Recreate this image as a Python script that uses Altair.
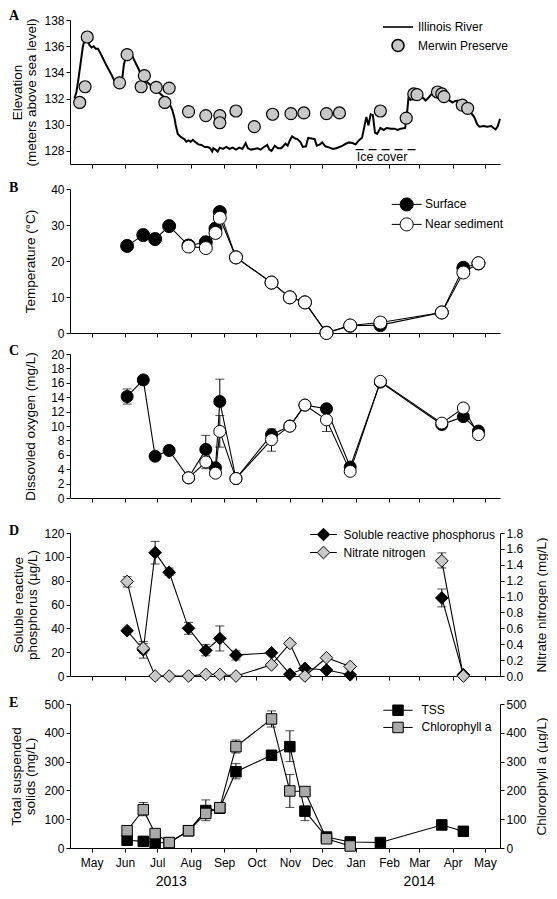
import altair as alt
import pandas as pd

# ---------------- data ----------------
# Panel A: Illinois River stage and Merwin Preserve samples
river_dates = [
    "2013-04-15", "2013-04-17", "2013-04-19", "2013-04-21", "2013-04-23", "2013-04-25", "2013-04-27",
    "2013-04-29", "2013-05-01", "2013-05-03", "2013-05-05", "2013-05-07", "2013-05-09", "2013-05-12",
    "2013-05-15", "2013-05-19", "2013-05-22", "2013-05-25", "2013-05-27", "2013-05-29", "2013-05-31",
    "2013-06-02", "2013-06-05", "2013-06-08", "2013-06-11", "2013-06-14", "2013-06-17", "2013-06-21",
    "2013-06-25", "2013-06-28", "2013-07-02", "2013-07-06", "2013-07-10", "2013-07-13", "2013-07-15",
    "2013-07-17", "2013-07-18", "2013-07-20", "2013-07-23", "2013-07-26", "2013-07-28", "2013-07-30",
    "2013-08-01", "2013-08-03", "2013-08-05", "2013-08-08", "2013-08-11", "2013-08-14", "2013-08-17",
    "2013-08-19", "2013-08-21", "2013-08-22", "2013-08-24", "2013-08-26", "2013-08-28", "2013-08-31",
    "2013-09-03", "2013-09-06", "2013-09-09", "2013-09-12", "2013-09-15", "2013-09-18", "2013-09-21",
    "2013-09-23", "2013-09-26", "2013-09-29", "2013-10-02", "2013-10-05", "2013-10-08", "2013-10-11",
    "2013-10-13", "2013-10-15", "2013-10-18", "2013-10-21", "2013-10-24", "2013-10-28", "2013-10-30",
    "2013-11-01", "2013-11-03", "2013-11-06", "2013-11-08", "2013-11-11", "2013-11-13", "2013-11-16",
    "2013-11-18", "2013-11-21", "2013-11-24", "2013-11-26", "2013-11-29", "2013-12-01", "2013-12-04",
    "2013-12-08", "2013-12-11", "2013-12-14", "2013-12-17", "2013-12-20", "2013-12-23", "2013-12-26",
    "2013-12-29", "2014-01-01", "2014-01-04", "2014-01-07", "2014-01-09", "2014-01-11", "2014-01-13",
    "2014-01-15", "2014-01-17", "2014-01-19", "2014-01-21", "2014-01-24", "2014-01-27", "2014-01-30",
    "2014-02-03", "2014-02-06", "2014-02-09", "2014-02-12", "2014-02-16", "2014-02-18", "2014-02-19",
    "2014-02-21", "2014-02-23", "2014-02-27", "2014-03-02", "2014-03-04", "2014-03-07", "2014-03-10",
    "2014-03-12", "2014-03-16", "2014-03-19", "2014-03-22", "2014-03-25", "2014-03-27", "2014-04-01",
    "2014-04-03", "2014-04-06", "2014-04-10", "2014-04-13", "2014-04-16", "2014-04-19", "2014-04-21",
    "2014-04-24", "2014-04-26", "2014-04-30", "2014-05-03", "2014-05-07", "2014-05-09", "2014-05-11",
    "2014-05-13", "2014-05-15",
]
river_elev = [
    132.0, 132.5, 133.6, 134.8, 136.0, 136.6, 136.5,
    136.1, 135.9, 136.0, 135.8, 135.8, 135.5, 135.0,
    134.5, 133.9, 133.4, 132.9, 133.0, 133.2, 134.6,
    135.2, 135.45, 135.2, 134.7, 134.2, 133.6, 133.3,
    133.0, 132.85, 132.5, 132.2, 131.85, 131.5, 131.1,
    130.5, 130.0, 129.3, 129.05, 128.9, 128.7, 128.8,
    128.7, 128.85, 128.7, 128.5, 128.45, 128.3, 128.3,
    128.2, 127.95, 128.2, 128.1, 127.95, 128.25, 128.15,
    128.3, 128.15, 128.25, 128.1, 128.25, 128.15, 128.6,
    128.2, 128.1, 128.15, 128.2, 128.1, 128.3, 128.45,
    128.1, 128.0, 128.4, 128.2, 128.2, 128.55, 128.4,
    128.8, 129.1, 128.95, 128.9, 128.65, 128.3, 128.35,
    129.0, 128.95, 128.9, 128.4, 128.5, 128.65, 128.35,
    128.25, 128.15, 128.2, 128.3, 128.4, 128.55, 128.65,
    128.6, 128.5, 128.8, 129.0, 129.8, 130.6, 129.95,
    130.8, 130.75, 129.4, 129.3, 129.75, 129.6, 129.75,
    129.7, 129.7, 129.6, 129.7, 129.75, 131.1, 132.0,
    131.9, 132.35, 132.4, 132.3, 132.1, 131.85, 132.1,
    132.3, 132.6, 132.5, 132.2, 132.1, 131.95, 131.7,
    131.8, 131.85, 131.6, 131.4, 131.1, 130.8, 130.6,
    130.0, 129.85, 129.9, 129.85, 129.9, 129.75, 129.65,
    129.9, 130.45,
]
merwin_dates = [
    "2013-04-20", "2013-04-25", "2013-04-27", "2013-05-27", "2013-06-03", "2013-06-16", "2013-06-19",
    "2013-06-30", "2013-07-08", "2013-07-12", "2013-07-30", "2013-08-15", "2013-08-28", "2013-08-28",
    "2013-09-12", "2013-09-29", "2013-10-16", "2013-11-02", "2013-11-14", "2013-12-05", "2013-12-17",
    "2014-01-24", "2014-02-17", "2014-02-24", "2014-02-27", "2014-03-18", "2014-03-22", "2014-03-24",
    "2014-04-10", "2014-04-15",
]
merwin_elev = [
    131.7, 132.9, 136.7, 133.2, 135.35, 132.9, 133.75,
    132.85, 131.7, 132.8, 131.0, 130.7, 130.7, 130.15,
    131.05, 129.85, 130.8, 130.85, 130.9, 130.85, 130.9,
    131.05, 130.5, 132.35, 132.3, 132.5, 132.35, 132.15,
    131.5, 131.25,
]
ice_start = ["2014-01-01"]
ice_end = ["2014-03-02"]
ice_level = [128.1]
ice_label = ["Ice cover"]
ice_label_date = ["2014-01-02"]
ice_label_level = [127.55]

# Sampling dates (panels B, C)
sample_dates = [
    "2013-06-03", "2013-06-18", "2013-06-29", "2013-07-12", "2013-07-30", "2013-08-15", "2013-08-24",
    "2013-08-28", "2013-09-12", "2013-10-15", "2013-11-01", "2013-11-15", "2013-12-05", "2013-12-27",
    "2014-01-24", "2014-03-22", "2014-04-11", "2014-04-25",
]
near_dates = sample_dates[4:]

# Panel B: temperature
temp_surface = [24.2, 27.2, 26.1, 29.7, 24.3, 25.2, 29.0, 33.6, 21.0, 14.0, 9.9, 8.5, 0.1, 2.0, 2.2, 5.7, 18.1, 19.3]
temp_near = [24.0, 23.6, 27.8, 32.0, 21.0, 14.0, 9.9, 8.5, 0.0, 2.1, 2.9, 5.7, 16.8, 19.4]

# Panel C: dissolved oxygen
do_surface = [14.1, 16.4, 5.8, 6.6, 2.8, 6.75, 4.2, 13.4, 2.7, 8.8, 10.0, 12.9, 12.4, 4.3, 16.1, 10.2, 11.3, 9.3]
do_near = [2.8, 5.0, 3.45, 9.25, 2.7, 8.1, 9.97, 12.9, 10.85, 3.7, 16.2, 10.4, 12.5, 8.8]
do_err_surface_dates = ["2013-06-03", "2013-08-15", "2013-08-28", "2013-10-15"]
do_err_surface_lo = [13.05, 6.75, 13.4, 8.8]
do_err_surface_hi = [15.15, 8.7, 16.5, 9.6]
do_err_near_dates = ["2013-08-15", "2013-08-28", "2013-10-15", "2013-12-05"]
do_err_near_lo = [4.07, 7.06, 6.5, 9.25]
do_err_near_hi = [5.0, 11.45, 8.1, 10.85]

# Panel D: nutrients
nut_dates = [
    "2013-06-03", "2013-06-18", "2013-06-29", "2013-07-12", "2013-07-30", "2013-08-15", "2013-08-28",
    "2013-09-12", "2013-10-15", "2013-11-01", "2013-11-15", "2013-12-05", "2013-12-27", "2014-03-22",
    "2014-04-11",
]
srp = [38.0, 22.0, 103.5, 87.0, 40.0, 21.5, 31.5, 17.5, 19.5, 1.5, 6.5, 5.0, 1.0, 65.5, 1.0]
nitrate = [1.19, 0.35, 0.0, 0.0, 0.0, 0.02, 0.02, 0.0, 0.14, 0.41, 0.0, 0.23, 0.12, 1.45, 0.0]
srp_err_dates = ["2013-06-18", "2013-06-29", "2013-07-12", "2013-07-30", "2013-08-15", "2013-08-28", "2013-09-12", "2014-03-22"]
srp_err_lo = [15, 94, 84.5, 35, 17, 21, 13.5, 58]
srp_err_hi = [29, 113, 90.5, 45, 26.5, 42, 21, 73]
no3_err_dates = ["2013-06-03", "2013-06-18", "2014-03-22"]
no3_err_lo = [1.12, 0.29, 1.36]
no3_err_hi = [1.25, 0.41, 1.55]

# Panel E: solids and chlorophyll
sol_dates = [
    "2013-06-03", "2013-06-18", "2013-06-29", "2013-07-12", "2013-07-30", "2013-08-15", "2013-08-28",
    "2013-09-12", "2013-10-15", "2013-11-01", "2013-11-15", "2013-12-05", "2013-12-27", "2014-01-24",
    "2014-03-22", "2014-04-11",
]
tss = [27, 23, 18, 18, 60, 130, 138, 265, 322, 352, 128, 38, 21, 19, 80, 58]
chl_dates = sol_dates[:13]
chl = [60, 133, 50, 19, 60, 120, 140, 352, 448, 198, 196, 32, 7]
tss_err_dates = ["2013-08-15", "2013-09-12", "2013-11-01", "2013-11-15"]
tss_err_lo = [130, 240, 300, 95]
tss_err_hi = [167, 293, 407, 128]
chl_err_dates = ["2013-06-18", "2013-08-15", "2013-09-12", "2013-10-15", "2013-11-01"]
chl_err_lo = [112, 95, 330, 420, 141]
chl_err_hi = [158, 120, 375, 476, 255]

year_dates = ["2013-07-14", "2014-03-01"]
year_labels = ["2013", "2014"]

# ---------------- styling ----------------
FONT = "Liberation Sans"
W = 430
X_DOMAIN = [alt.DateTime(year=2013, month=4, date=11, utc=True),
            alt.DateTime(year=2014, month=5, date=15, utc=True)]
MONTHS = [(2013, m) for m in range(5, 13)] + [(2014, m) for m in range(1, 6)]
MONTH_TICKS = [alt.DateTime(year=y, month=m, date=1, utc=True) for (y, m) in MONTHS]

LINE_PATH = "M-2.5,0L2.5,0"
CIRCLE_PATH = "M-2.3,0L-1,0M1,0L2.3,0M-1,0A1,1 0 1 1 1,0A1,1 0 1 1 -1,0Z"
DIAMOND_PATH = "M-2.1,0L-1,0M1,0L2.1,0M-1,0L0,-1L1,0L0,1Z"
SQUARE_PATH = "M-2.8,0L-1,0M1,0L2.8,0M-1,-1L1,-1L1,1L-1,1Z"


def xenc(labels=False):
    return alt.X(
        "date:T", title=None,
        scale=alt.Scale(type="utc", domain=X_DOMAIN, nice=False),
        axis=alt.Axis(values=MONTH_TICKS, format="%b", labels=labels, labelFlush=False,
                      labelOverlap=False, tickSize=4, labelPadding=5, grid=False),
    )


def yenc(field, domain, values, title, orient="left", title_x=None, fmt=None):
    ax = dict(values=values, title=title, orient=orient, tickSize=4, labelPadding=2, grid=False)
    if title_x is not None:
        ax["titleX"] = title_x
    if fmt:
        ax["format"] = fmt
    if orient == "right":
        ax["titleAngle"] = 270
        ax["titleBaseline"] = "top"
    return alt.Y(field, scale=alt.Scale(domain=domain, nice=False, zero=False), axis=alt.Axis(**ax))


def letter(ch, dy):
    return alt.Chart(pd.DataFrame({"t": [ch]})).mark_text(
        align="left", baseline="top", font="Liberation Serif", fontWeight="bold", fontSize=14, color="black"
    ).encode(text="t:N", x=alt.value(-61), y=alt.value(dy))


def spacer(k):
    return alt.Chart(pd.DataFrame({"t": [0]})).mark_rule(opacity=0).encode(y=alt.value(-k))


def legend(path, lx, ly, size, label_offset, row_pad):
    return alt.Legend(orient="none", legendX=lx, legendY=ly, title=None, symbolType=path,
                      symbolSize=size, symbolStrokeColor="black", symbolStrokeWidth=1,
                      symbolOpacity=1, labelOffset=label_offset, rowPadding=row_pad, padding=0,
                      labelFont=FONT, labelFontSize=12, labelColor="black")


def err_layers(df, yname_hi, ydef_lo, ydef_hi):
    rule = alt.Chart(df).mark_rule(color="black", strokeWidth=1).encode(
        x=xenc(), y=ydef_lo, y2=alt.Y2(yname_hi))
    cap_lo = alt.Chart(df).mark_tick(color="black", thickness=1, size=9, orient="horizontal").encode(
        x=xenc(), y=ydef_lo)
    cap_hi = alt.Chart(df).mark_tick(color="black", thickness=1, size=9, orient="horizontal").encode(
        x=xenc(), y=ydef_hi)
    return [rule, cap_lo, cap_hi]


# ---------------- panel A ----------------
yA = lambda f: yenc(f, [127, 138], [128, 130, 132, 134, 136, 138],
                    ["Elevation", "(meters above sea level)"], title_x=-46)
river_df = pd.DataFrame({"date": river_dates, "v": river_elev})
merwin_df = pd.DataFrame({"date": merwin_dates, "v": merwin_elev, "series": "Merwin Preserve"})
ice_df = pd.DataFrame({"date": ice_start, "date2": ice_end, "v": ice_level})
ice_txt = pd.DataFrame({"date": ice_label_date, "v": ice_label_level, "label": ice_label})

legA = alt.Legend(orient="none", legendX=321, legendY=0, title=None, symbolSize=144,
                  symbolStrokeWidth=1.6, symbolOpacity=1,
                  labelOffset=13, rowPadding=2.5, padding=0,
                  labelFont=FONT, labelFontSize=12, labelColor="black")
A_dom = ["Illinois River", "Merwin Preserve"]
panelA = alt.layer(
    alt.Chart(river_df).mark_line(color="black", strokeWidth=2).encode(x=xenc(), y=yA("v:Q")),
    alt.Chart(ice_df).mark_rule(color="black", strokeWidth=1.2, strokeDash=[8, 5]).encode(
        x=xenc(), x2="date2:T", y=yA("v:Q")),
    alt.Chart(ice_txt).mark_text(align="left", baseline="middle", font=FONT, fontSize=12.5, color="black").encode(
        x=xenc(), y=yA("v:Q"), text="label:N"),
    alt.Chart(merwin_df).mark_point(filled=True, opacity=1, size=144, strokeWidth=1.2).encode(
        x=xenc(), y=yA("v:Q"),
        shape=alt.Shape("series:N", scale=alt.Scale(domain=A_dom, range=[LINE_PATH, "circle"]), legend=legA),
        fill=alt.Fill("series:N", scale=alt.Scale(domain=A_dom, range=["black", "#c8c8c8"]), legend=legA),
        stroke=alt.Stroke("series:N", scale=alt.Scale(domain=A_dom, range=["black", "black"]), legend=legA),
    ),
    letter("A", -11.3),
).properties(width=W, height=144)

# ---------------- panel B ----------------
B_dom = ["Surface", "Near sediment"]
temp_df = pd.concat([
    pd.DataFrame({"date": sample_dates, "v": temp_surface, "series": "Surface"}),
    pd.DataFrame({"date": near_dates, "v": temp_near, "series": "Near sediment"}),
])
yB = lambda f: yenc(f, [0, 40], [0, 10, 20, 30, 40], "Temperature (°C)", title_x=-33)
panelB = alt.layer(
    alt.Chart(temp_df).mark_line(color="black", strokeWidth=1.1).encode(x=xenc(), y=yB("v:Q"), detail="series:N"),
    alt.Chart(temp_df).mark_point(filled=True, opacity=1, size=169, stroke="black", strokeWidth=1).encode(
        x=xenc(), y=yB("v:Q"),
        fill=alt.Fill("series:N", scale=alt.Scale(domain=B_dom, range=["black", "white"]),
                      legend=legend(CIRCLE_PATH, 329.7, 8.4, 169, 11.3, 2))),
    letter("B", -7.6), spacer(19.3),
).properties(width=W, height=144)

# ---------------- panel C ----------------
do_df = pd.concat([
    pd.DataFrame({"date": sample_dates, "v": do_surface, "series": "Surface"}),
    pd.DataFrame({"date": near_dates, "v": do_near, "series": "Near sediment"}),
])
do_err = pd.concat([
    pd.DataFrame({"date": do_err_surface_dates, "lo": do_err_surface_lo, "hi": do_err_surface_hi}),
    pd.DataFrame({"date": do_err_near_dates, "lo": do_err_near_lo, "hi": do_err_near_hi}),
])
yC = lambda f: yenc(f, [0, 20], list(range(0, 21, 2)), "Dissovled oxygen (mg/L)", title_x=-33)
panelC = alt.layer(
    alt.Chart(do_df).mark_line(color="black", strokeWidth=1.1).encode(x=xenc(), y=yC("v:Q"), detail="series:N"),
    *err_layers(do_err, "hi:Q", yC("lo:Q"), yC("hi:Q")),
    alt.Chart(do_df).mark_point(filled=True, opacity=1, size=144, stroke="black", strokeWidth=1).encode(
        x=xenc(), y=yC("v:Q"),
        fill=alt.Fill("series:N", scale=alt.Scale(domain=B_dom, range=["black", "white"]), legend=None)),
    letter("C", -10.3), spacer(11.5),
).properties(width=W, height=144)

# ---------------- panel D ----------------
D_dom = ["Soluble reactive phosphorus", "Nitrate nitrogen"]
seg = [d[:4] for d in nut_dates]
srp_df = pd.DataFrame({"date": nut_dates, "v": srp, "seg": seg, "series": D_dom[0]})
no3_df = pd.DataFrame({"date": nut_dates, "n": nitrate, "seg": seg, "series": D_dom[1]})
srp_err = pd.DataFrame({"date": srp_err_dates, "lo": srp_err_lo, "hi": srp_err_hi})
no3_err = pd.DataFrame({"date": no3_err_dates, "lo": no3_err_lo, "hi": no3_err_hi})
yDl = lambda f: yenc(f, [0, 120], list(range(0, 121, 20)), ["Soluble reactive", "phosphorus (µg/L)"], title_x=-45)
yDr = lambda f: yenc(f, [0, 1.8], [round(0.2 * i, 1) for i in range(10)], "Nitrate nitrogen (mg/L)",
                     orient="right", title_x=34, fmt=".1f")
legD = legend(DIAMOND_PATH, 246.5, -5.5, 160, 13, 0)
D_fill = alt.Scale(domain=D_dom, range=["black", "#c8c8c8"])
D_left = alt.layer(
    alt.Chart(srp_df).mark_line(color="black", strokeWidth=1.1).encode(x=xenc(), y=yDl("v:Q"), detail="seg:N"),
    *err_layers(srp_err, "hi:Q", yDl("lo:Q"), yDl("hi:Q")),
    alt.Chart(srp_df).mark_point(shape="diamond", filled=True, opacity=1, size=160, stroke="black", strokeWidth=1).encode(
        x=xenc(), y=yDl("v:Q"), fill=alt.Fill("series:N", scale=D_fill, legend=legD)),
)
D_right = alt.layer(
    alt.Chart(no3_df).mark_line(color="black", strokeWidth=1.1).encode(x=xenc(), y=yDr("n:Q"), detail="seg:N"),
    *err_layers(no3_err, "hi:Q", yDr("lo:Q"), yDr("hi:Q")),
    alt.Chart(no3_df).mark_point(shape="diamond", filled=True, opacity=1, size=160, stroke="black", strokeWidth=1).encode(
        x=xenc(), y=yDr("n:Q"), fill=alt.Fill("series:N", scale=D_fill, legend=legD)),
)
panelD = alt.layer(D_left, D_right, letter("D", -9), spacer(28.3)).resolve_scale(y="independent").properties(
    width=W, height=143)

# ---------------- panel E ----------------
E_dom = ["TSS", "Chlorophyll a"]
tss_df = pd.DataFrame({"date": sol_dates, "v": tss, "series": E_dom[0]})
chl_df = pd.DataFrame({"date": chl_dates, "c": chl, "series": E_dom[1]})
tss_err = pd.DataFrame({"date": tss_err_dates, "lo": tss_err_lo, "hi": tss_err_hi})
chl_err = pd.DataFrame({"date": chl_err_dates, "lo": chl_err_lo, "hi": chl_err_hi})
year_df = pd.DataFrame({"date": year_dates, "label": year_labels})
yEl = lambda f: yenc(f, [0, 500], list(range(0, 501, 100)), ["Total suspended", "solids (mg/L)"], title_x=-47)
yEr = lambda f: yenc(f, [0, 500], list(range(0, 501, 100)), "Chlorophyll a (µg/L)", orient="right", title_x=34)
legE = legend(SQUARE_PATH, 322, 0.25, 110, 17.5, 1.2)
E_fill = alt.Scale(domain=E_dom, range=["black", "#a9a9a9"])
E_left = alt.layer(
    alt.Chart(tss_df).mark_line(color="black", strokeWidth=1.1).encode(x=xenc(True), y=yEl("v:Q")),
    *err_layers(tss_err, "hi:Q", yEl("lo:Q"), yEl("hi:Q")),
    alt.Chart(tss_df).mark_point(shape="square", filled=True, opacity=1, size=110, stroke="black", strokeWidth=1).encode(
        x=xenc(True), y=yEl("v:Q"), fill=alt.Fill("series:N", scale=E_fill, legend=legE)),
)
E_right = alt.layer(
    alt.Chart(chl_df).mark_line(color="black", strokeWidth=1.1).encode(x=xenc(True), y=yEr("c:Q")),
    *err_layers(chl_err, "hi:Q", yEr("lo:Q"), yEr("hi:Q")),
    alt.Chart(chl_df).mark_point(shape="square", filled=True, opacity=1, size=110, stroke="black", strokeWidth=1).encode(
        x=xenc(True), y=yEr("c:Q"), fill=alt.Fill("series:N", scale=E_fill, legend=legE)),
)
years = alt.Chart(year_df).mark_text(align="center", baseline="alphabetic", font=FONT, fontSize=14, color="black").encode(
    x=xenc(True), text="label:N", y=alt.value(144 + 38))
panelE = alt.layer(E_left, E_right, years, letter("E", -8), spacer(18.7)).resolve_scale(y="independent").properties(
    width=W, height=144)

# ---------------- assemble ----------------
chart = alt.vconcat(panelA, panelB, panelC, panelD, panelE, spacing=0).resolve_scale(
    x="independent", y="independent", fill="independent", shape="independent", stroke="independent"
).resolve_legend(fill="independent", shape="independent", stroke="independent").properties(padding=0).configure_axis(
    domainColor="black", tickColor="black", labelColor="black", titleColor="black",
    labelFont=FONT, titleFont=FONT, labelFontSize=12, titleFontSize=13.5, titleFontWeight="normal",
    titleLineHeight=14, domainWidth=1, tickWidth=1,
).configure_view(stroke=None)

chart.save("out.html", embed_options={"renderer": "svg", "actions": False})
